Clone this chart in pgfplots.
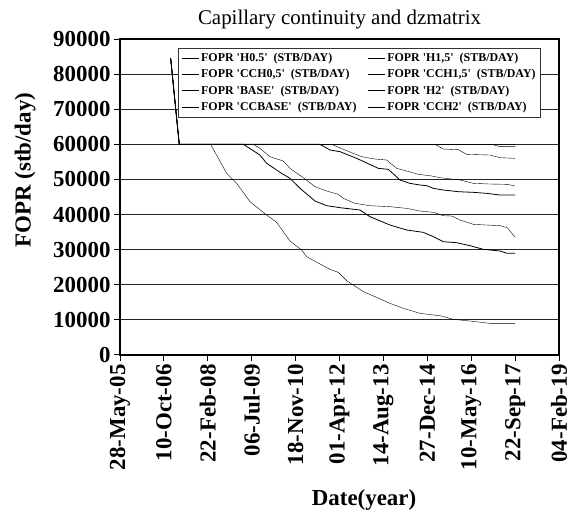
\documentclass[border=0pt]{standalone}
\usepackage{fontspec}
\setmainfont{Liberation Serif}
\usepackage{pgfplots}
\pgfplotsset{compat=1.18}
\newcommand{\q}{\textquotesingle}
\begin{document}
\begin{tikzpicture}
\path[use as bounding box] (0,0) rectangle (569bp,515bp);
\begin{axis}[
  at={(120bp,160bp)}, anchor=south west,
  scale only axis, width=439bp, height=316bp,
  xmin=0, xmax=5000, ymin=0, ymax=90000,
  xtick={0,500,...,5000},
  xticklabels={28-May-05,10-Oct-06,22-Feb-08,06-Jul-09,18-Nov-10,01-Apr-12,14-Aug-13,27-Dec-14,10-May-16,22-Sep-17,04-Feb-19},
  ytick={0,10000,...,90000},
  scaled y ticks=false,
  /pgf/number format/1000 sep={},
  /pgf/number format/assume math mode=true,
  xtick pos=lower, ytick pos=left,
  tick align=outside,
  major tick length=6bp,
  tick style={black, line width=1bp},
  axis line style={line width=2bp},
  ymajorgrids,
  major grid style={black!85, line width=0.8bp},
  ticklabel style={font=\bfseries\fontsize{23}{25}\selectfont},
  xticklabel style={rotate=90, anchor=east},
  title={Capillary continuity and dzmatrix},
  title style={font=\fontsize{21}{24}\selectfont, at={(0.5,1)}, anchor=base, yshift=9bp},
  xlabel={Date(year)},
  every axis x label/.style={font=\bfseries\fontsize{23}{26}\selectfont, at={(axis description cs:0.556,-0.459)}, anchor=center},
  ylabel={FOPR (stb/day)},
  every axis y label/.style={font=\bfseries\fontsize{23}{26}\selectfont, at={(axis description cs:-0.216,0.585)}, anchor=center, rotate=90},
  legend columns=2,
  legend cell align=left,
  legend style={at={(axis description cs:0.132,0.972)}, anchor=north west,
    font=\bfseries\fontsize{12}{14}\selectfont, draw=black!80, line width=0.8bp,
    inner xsep=3bp, inner ysep=3bp, row sep=2.6bp,
    /tikz/every even column/.append style={column sep=9bp}},
  cycle list={{black, no markers, line width=0.8bp}},
]
% H0.5
\addplot coordinates {(577,84500)(675,60000)(1032,60000)(1215,51736)(1329,48888)(1480,43667)(1671,39870)(1784,37781)(1936,32465)(2069,29902)(2126,28003)(2278,25917)(2392,24396)(2487,23542)(2582,21169)(2657,19934)(2771,18036)(2923,16422)(3075,14713)(3227,13289)(3417,11865)(3663,11105)(3796,10156)(3986,9681)(4214,9017)(4500,9017)};
\addlegendentry{FOPR \q H0.5\q\ \ (STB/DAY)}
% H1,5
\addplot coordinates {(577,84500)(675,60000)(3588,60000)(3682,58666)(3853,58476)(3948,57147)(4214,56957)(4328,56198)(4500,56008)};
\addlegendentry{FOPR \q H1,5\q\ \ (STB/DAY)}
% CCH0,5
\addplot coordinates {(577,84500)(675,60000)(1405,60000)(1594,56957)(1671,54584)(1841,51736)(1936,50312)(2051,47464)(2221,43857)(2354,42527)(2506,41958)(2733,41294)(2847,39394)(3075,37021)(3265,35597)(3455,34933)(3569,33699)(3682,32275)(3834,31990)(3986,31136)(4138,30091)(4328,29617)(4411,28953)(4500,28953)};
\addlegendentry{FOPR \q CCH0,5\q\ \ (STB/DAY)}
% CCH1,5
\addplot coordinates {(577,84500)(675,60000)(4233,60000)(4328,59330)(4500,59330)};
\addlegendentry{FOPR \q CCH1,5\q\ \ (STB/DAY)}
% BASE
\addplot coordinates {(577,84500)(675,60000)(1518,60000)(1594,58856)(1708,56482)(1860,55248)(1936,53160)(2088,50502)(2221,47939)(2354,46705)(2487,45755)(2544,44616)(2676,43192)(2847,42527)(3075,42243)(3265,41768)(3417,41009)(3569,40629)(3682,39680)(3777,39585)(3873,38446)(4024,37211)(4176,37021)(4328,36831)(4411,36262)(4500,33509)};
\addlegendentry{FOPR \q BASE\q\ \ (STB/DAY)}
% H2
\addplot coordinates {(577,84500)(675,60000)(2278,60000)(2392,58381)(2506,57907)(2695,56008)(2942,53160)(3056,52875)(3189,49837)(3303,48888)(3417,48413)(3493,48223)(3569,47464)(3682,46990)(3853,46515)(4024,46325)(4176,46040)(4328,45566)(4500,45566)};
\addlegendentry{FOPR \q H2\q\ \ (STB/DAY)}
% CCBASE
\addplot coordinates {(577,84500)(675,60000)(2411,60000)(2563,58381)(2752,56482)(2904,55818)(3037,55533)(3151,53160)(3265,52400)(3398,51451)(3531,51071)(3644,50502)(3873,49837)(4024,48888)(4214,48698)(4411,48603)(4500,48129)};
\addlegendentry{FOPR \q CCBASE\q\ \ (STB/DAY)}
% CCH2
\addplot coordinates {(577,84500)(675,60000)(4500,60000)};
\addlegendentry{FOPR \q CCH2\q\ \ (STB/DAY)}
\end{axis}
\end{tikzpicture}
\end{document}
